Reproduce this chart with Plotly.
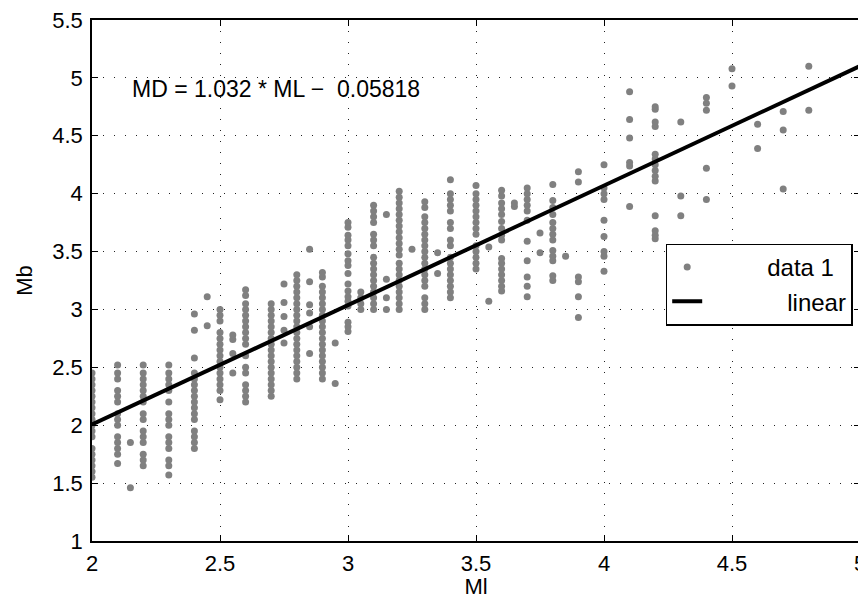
import plotly.graph_objects as go

# Ml positions of the data columns
col_ml = [2.0, 2.1, 2.15, 2.2, 2.3, 2.4, 2.45, 2.5, 2.55, 2.6, 2.7, 2.75, 2.8, 2.85, 2.9, 2.95,
          3.0, 3.05, 3.1, 3.15, 3.2, 3.25, 3.3, 3.35, 3.4, 3.5, 3.55, 3.6, 3.65, 3.7, 3.75,
          3.8, 3.85, 3.9, 4.0, 4.1, 4.2, 4.3, 4.4, 4.5, 4.6, 4.7, 4.8]

# Mb values read for each column
col_mb = [
    [1.55, 1.6, 1.65, 1.7, 1.75, 1.8, 1.9, 1.95, 2.0, 2.05, 2.1, 2.15, 2.2, 2.25, 2.3, 2.35, 2.4, 2.45],
    [1.67, 1.75, 1.8, 1.85, 1.9, 2.0, 2.05, 2.1, 2.2, 2.25, 2.3, 2.4, 2.45, 2.52],
    [1.46, 1.85],
    [1.65, 1.7, 1.75, 1.85, 1.9, 1.95, 2.05, 2.1, 2.2, 2.25, 2.3, 2.35, 2.4, 2.45, 2.52],
    [1.57, 1.65, 1.7, 1.8, 1.85, 1.9, 2.0, 2.05, 2.1, 2.2, 2.3, 2.35, 2.4, 2.45, 2.52],
    [1.8, 1.85, 1.9, 1.95, 2.05, 2.1, 2.15, 2.2, 2.25, 2.3, 2.35, 2.4, 2.45, 2.58, 2.82, 2.96],
    [2.86, 3.11],
    [2.22, 2.3, 2.35, 2.4, 2.45, 2.5, 2.55, 2.6, 2.65, 2.7, 2.75, 2.8, 2.9, 2.95, 3.0],
    [2.45, 2.62, 2.74, 2.78],
    [2.2, 2.25, 2.3, 2.35, 2.45, 2.5, 2.6, 2.7, 2.75, 2.8, 2.85, 2.9, 2.95, 3.0, 3.05, 3.12, 3.17],
    [2.25, 2.3, 2.35, 2.4, 2.45, 2.5, 2.55, 2.6, 2.65, 2.7, 2.75, 2.8, 2.85, 2.9, 2.95, 3.0, 3.05],
    [2.71, 2.82, 2.94, 3.06, 3.22],
    [2.4, 2.45, 2.5, 2.55, 2.6, 2.65, 2.7, 2.75, 2.8, 2.85, 2.9, 2.95, 3.0, 3.05, 3.1, 3.15, 3.2, 3.25, 3.3],
    [2.62, 2.85, 2.97, 3.04, 3.24, 3.52],
    [2.4, 2.45, 2.5, 2.55, 2.6, 2.65, 2.7, 2.75, 2.8, 2.85, 2.9, 2.95, 3.0, 3.05, 3.1, 3.15, 3.2, 3.28, 3.32],
    [2.36, 2.71],
    [2.81, 2.85, 2.89, 3.03, 3.07, 3.11, 3.16, 3.22, 3.31, 3.38, 3.42, 3.48, 3.55, 3.6, 3.64, 3.71, 3.75],
    [3.0, 3.05, 3.1, 3.15],
    [3.0, 3.05, 3.1, 3.15, 3.2, 3.25, 3.3, 3.35, 3.4, 3.45, 3.55, 3.6, 3.65, 3.75, 3.8, 3.85, 3.9],
    [3.0, 3.1, 3.26, 3.82],
    [3.0, 3.05, 3.1, 3.15, 3.2, 3.25, 3.3, 3.35, 3.4, 3.47, 3.52, 3.57, 3.62, 3.67, 3.72, 3.77, 3.82,
     3.87, 3.92, 3.97, 4.02],
    [3.52],
    [3.0, 3.05, 3.1, 3.2, 3.25, 3.3, 3.35, 3.4, 3.45, 3.5, 3.55, 3.6, 3.65, 3.7, 3.75, 3.8, 3.88, 3.93],
    [3.31, 3.49],
    [3.1, 3.15, 3.2, 3.25, 3.3, 3.35, 3.4, 3.45, 3.55, 3.6, 3.7, 3.75, 3.85, 3.9, 3.95, 4.0, 4.12],
    [3.35, 3.4, 3.45, 3.5, 3.55, 3.65, 3.7, 3.75, 3.8, 3.85, 3.9, 3.95, 4.0, 4.07],
    [3.07, 3.54],
    [3.16, 3.2, 3.25, 3.3, 3.35, 3.4, 3.44, 3.6, 3.64, 3.7, 3.76, 3.82, 3.87, 3.92, 3.98, 4.03],
    [3.89, 3.92],
    [3.11, 3.2, 3.28, 3.42, 3.59, 3.77, 3.85, 3.9, 3.95, 4.0, 4.05],
    [3.49, 3.66],
    [3.25, 3.29, 3.42, 3.46, 3.51, 3.6, 3.65, 3.7, 3.75, 3.82, 3.88, 3.94, 4.08],
    [3.46],
    [2.93, 3.11, 3.24, 3.28, 4.1, 4.19],
    [3.33, 3.46, 3.5, 3.63, 3.77, 3.95, 4.0, 4.05, 4.25],
    [3.89, 4.24, 4.27, 4.48, 4.64, 4.88],
    [3.61, 3.64, 3.68, 3.81, 4.11, 4.15, 4.2, 4.25, 4.3, 4.34, 4.58, 4.62, 4.73, 4.75],
    [3.81, 3.98, 4.62],
    [3.95, 4.22, 4.72, 4.78, 4.83],
    [4.93, 5.08],
    [4.39, 4.6],
    [4.04, 4.55, 4.71],
    [4.72, 5.1],
]

# fitted line MD = 1.032 * ML - 0.05818
fit_slope = 1.032
fit_offset = -0.05818
fit_ml = [2.0, 5.0]

ml = []
mb = []
for x, ys in zip(col_ml, col_mb):
    for y in ys:
        ml.append(x)
        mb.append(y)

fit_mb = [fit_slope * x + fit_offset for x in fit_ml]

family = "Liberation Sans, Arial, sans-serif"
font = dict(family=family, size=22, color="black")

fig = go.Figure()
fig.add_trace(go.Scatter(x=ml, y=mb, mode="markers", name="\u00a0" * 9 + "data 1",
                         marker=dict(color="#808080", size=7)))
fig.add_trace(go.Scatter(x=fit_ml, y=fit_mb, mode="lines", name="\u00a0" * 12 + "linear",
                         line=dict(color="black", width=4)))

fig.add_annotation(x=2.15, y=4.9, xref="x", yref="y", xanchor="left", yanchor="middle",
                   text="MD = 1.032 * ML \u2212\u00a0 0.05818", showarrow=False,
                   font=dict(family=family, size=23, color="black"))

axis_style = dict(showline=True, linecolor="black", linewidth=1.5, mirror="allticks",
                  ticks="inside", ticklen=6, tickcolor="black", automargin=False,
                  ticklabeloverflow="allow",
                  showgrid=True, gridcolor="#222222", gridwidth=1, griddash="1px,10px",
                  zeroline=False, tickfont=font)

fig.update_xaxes(range=[2, 5], dtick=0.5, ticklabelstandoff=2,
                 title=dict(text="Ml", font=font, standoff=2), **axis_style)
fig.update_yaxes(range=[1, 5.5], dtick=0.5, ticklabelstandoff=3,
                 title=dict(text="Mb", font=font, standoff=14), **axis_style)

# the page body has an 8px margin, so the figure is 8px smaller and margins shifted
fig.update_layout(
    width=858, height=591,
    margin=dict(l=84, r=6, t=12, b=58, autoexpand=False),
    paper_bgcolor="white", plot_bgcolor="white",
    font=font,
    showlegend=True,
    legend=dict(x=0.747, xanchor="left", y=0.571, yanchor="top",
                bgcolor="white", bordercolor="black", borderwidth=1.5,
                font=dict(family=family, size=24, color="black")),
)

fig.write_html("out.html")
